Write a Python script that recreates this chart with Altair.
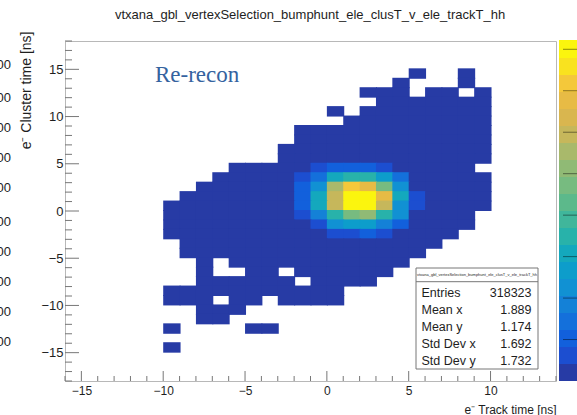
import altair as alt
import pandas as pd

FONT = "Liberation Sans"
TXT = "#1e1e1e"

title_text = "vtxana_gbl_vertexSelection_bumphunt_ele_clusT_v_ele_trackT_hh"
x_title = "e\u207b Track time [ns]"
y_title = "e\u207b Cluster time [ns]"

x_domain = [-16, 14]
y_domain = [-18, 18]
x_label_vals = [-15, -10, -5, 0, 5, 10]
y_label_vals = [-15, -10, -5, 0, 5, 10, 15]
x_major = [-15, -10, -5, 0, 5, 10]
y_major = [-15, -10, -5, 0, 5, 10, 15]
x_minor = [v for v in range(-16, 15) if v % 5 != 0]
y_minor = [v for v in range(-18, 19) if v % 5 != 0]

# occupied 1x1 ns bins (low-count), per row: row lower edge -> spans of x lower edges
row_y = [14, 13, 12, 11, 10, 9, 8, 7, 6, 5, 4, 3, 2, 1, 0, -1, -2, -3, -4, -5,
         -6, -7, -8, -9, -10, -11, -12, -13, -15]
row_spans = [
    [(5, 5), (8, 8)],
    [(4, 4), (8, 8)],
    [(2, 4), (6, 7), (9, 9)],
    [(3, 9)],
    [(0, 0), (2, 9)],
    [(1, 9)],
    [(-2, 9)],
    [(-2, 9)],
    [(-3, 9)],
    [(-3, 9)],
    [(-6, 8)],
    [(-7, 9)],
    [(-8, 9)],
    [(-9, 9)],
    [(-10, 9)],
    [(-10, 8)],
    [(-10, 8)],
    [(-10, 7)],
    [(-9, 6)],
    [(-9, 5)],
    [(-8, -8), (-6, 4)],
    [(-8, -8), (-5, -4), (-2, 3)],
    [(-8, -3), (-1, 2)],
    [(-10, 0)],
    [(-10, -8), (-6, -5), (-3, 0)],
    [(-8, -6)],
    [(-8, -7)],
    [(-10, -10), (-5, -4)],
    [(-10, -10)],
]
low_count = 150

# dense core: row -> first x bin, counts
core_rows = [4, 3, 2, 1, 0, -1, -2, -3]
core_start = [-1, -2, -2, -2, -2, -2, -1, 0]
core_counts = [
    [1200, 2050, 2100, 2000, 1250],
    [1150, 2850, 6150, 7050, 6950, 5300, 2800],
    [2050, 4500, 11100, 14300, 13500, 9400, 4550],
    [2100, 6100, 11900, 16400, 16100, 13400, 6200, 1200],
    [2000, 6150, 11800, 16000, 15900, 11950, 4500, 1150],
    [1250, 3700, 7000, 9450, 10250, 7000, 4450],
    [1200, 4500, 5300, 5250, 3700, 2050],
    [1200, 1250, 2050, 1150],
]

stat_names = ["Entries", "Mean x", "Mean y", "Std Dev x", "Std Dev y"]
stat_values = ["318323", "1.889", "1.174", "1.692", "1.732"]

z_max = 16400
palette = ["#273ba5", "#1c4ed0", "#1260dc", "#1470db", "#1481d7", "#1191d3",
           "#0d9dcb", "#14a8bd", "#28b2aa", "#40b69b", "#5cb98b", "#77bb80",
           "#90ba75", "#a9b96b", "#c6b75b", "#d9b64f", "#e7bb45", "#f4c83a",
           "#f9e21f", "#fbf50e"]
z_ticks = [2000, 4000, 6000, 8000, 10000, 12000, 14000, 16000]
left_cut_labels = ["00"] * 10
left_cut_py = [24, 57, 87, 117, 147, 181, 211, 241, 271, 301]

# ---- build cell table
cells = {}
for y, spans in zip(row_y, row_spans):
    for a, b in spans:
        for x in range(a, b + 1):
            cells[(x, y)] = low_count
for y, xs, cnts in zip(core_rows, core_start, core_counts):
    for i, c in enumerate(cnts):
        cells[(xs + i, y)] = c
df = pd.DataFrame([{"x0": k[0], "x1": k[0] + 1, "y0": k[1], "y1": k[1] + 1, "count": v}
                   for k, v in cells.items()])

xs_ = alt.Scale(domain=x_domain, nice=False, zero=False)
ys_ = alt.Scale(domain=y_domain, nice=False, zero=False)
zs_ = alt.Scale(domain=[0, z_max], nice=False, zero=False)
cscale = alt.Scale(type="quantize", domain=[0, z_max], range=palette, nice=False, zero=False)

x_axis = alt.Axis(values=x_label_vals, ticks=False, domain=False, grid=False,
                  labelFont=FONT, labelFontSize=12, labelColor=TXT, labelPadding=4,
                  title=x_title, titleFont=FONT, titleFontSize=12, titleFontWeight="normal",
                  titleColor=TXT, titleAnchor="end", titleAlign="right",
                  titleBaseline="alphabetic", titleX=491, titleY=32)
y_axis = alt.Axis(values=y_label_vals, ticks=False, domain=False, grid=False,
                  labelFont=FONT, labelFontSize=13, labelColor=TXT, labelPadding=2,
                  title=y_title, titleFont=FONT, titleFontSize=14, titleFontWeight="normal",
                  titleColor=TXT, titleAngle=270, titleAnchor="end", titleAlign="right",
                  titleBaseline="alphabetic", titleX=-35, titleY=-10)

heat = alt.Chart(df).mark_rect(x2Offset=1, y2Offset=-1).encode(
    x=alt.X("x0:Q", scale=xs_, axis=x_axis),
    x2="x1:Q",
    y=alt.Y("y0:Q", scale=ys_, axis=y_axis),
    y2="y1:Q",
    color=alt.Color("count:Q", scale=cscale, legend=None),
)

step = z_max / len(palette)
df_pal = pd.DataFrame({"z0": [i * step for i in range(len(palette))],
                       "z1": [(i + 1) * step for i in range(len(palette))],
                       "col": palette})
pal = alt.Chart(df_pal).mark_rect(y2Offset=-1).encode(
    x=alt.value(494), x2=alt.value(540),
    y=alt.Y("z0:Q", scale=zs_, axis=None), y2="z1:Q",
    fill=alt.Fill("col:N", scale=None),
)
pal_ticks = alt.Chart(pd.DataFrame({"z": z_ticks})).mark_rule(color="#000", opacity=0.45).encode(
    x=alt.value(498), x2=alt.value(540), y=alt.Y("z:Q", scale=zs_, axis=None))

TICK = "#777777"
xmaj = alt.Chart(pd.DataFrame({"v": x_major})).mark_rule(color=TICK).encode(
    x=alt.X("v:Q", scale=xs_), y=alt.value(340), y2=alt.value(330))
xmin = alt.Chart(pd.DataFrame({"v": x_minor})).mark_rule(color=TICK).encode(
    x=alt.X("v:Q", scale=xs_), y=alt.value(340), y2=alt.value(335))
ymaj = alt.Chart(pd.DataFrame({"v": y_major})).mark_rule(color=TICK).encode(
    y=alt.Y("v:Q", scale=ys_, axis=None), x=alt.value(0), x2=alt.value(14))
ymin = alt.Chart(pd.DataFrame({"v": y_minor})).mark_rule(color=TICK).encode(
    y=alt.Y("v:Q", scale=ys_, axis=None), x=alt.value(0), x2=alt.value(7))

one = pd.DataFrame({"a": [0]})
box = alt.Chart(one).mark_rect(fill="white", stroke="#777777", strokeWidth=1).encode(
    x=alt.value(351), x2=alt.value(473), y=alt.value(227), y2=alt.value(328))
box_line = alt.Chart(one).mark_rule(color="#777777").encode(
    x=alt.value(351), x2=alt.value(473), y=alt.value(240.7))
box_head = alt.Chart(one).mark_text(font=FONT, fontSize=4, color=TXT, align="center",
                                    baseline="middle").encode(
    x=alt.value(412), y=alt.value(234), text=alt.value(title_text))

df_stats = pd.DataFrame({"name": stat_names, "val": stat_values,
                         "py": [251.5 + 17.2 * i for i in range(len(stat_names))]})
st_names = alt.Chart(df_stats).mark_text(font=FONT, fontSize=12.5, color=TXT, align="left",
                                         baseline="middle").encode(
    x=alt.value(356.5), y=alt.Y("py:Q", scale=None, axis=None), text="name:N")
st_vals = alt.Chart(df_stats).mark_text(font=FONT, fontSize=12.5, color=TXT, align="right",
                                        baseline="middle").encode(
    x=alt.value(466.5), y=alt.Y("py:Q", scale=None, axis=None), text="val:N")

title = alt.Chart(one).mark_text(font=FONT, fontSize=13, color=TXT, align="center",
                                 baseline="alphabetic").encode(
    x=alt.value(245), y=alt.value(-22), text=alt.value(title_text))
rerecon = alt.Chart(one).mark_text(font="Liberation Serif", fontSize=23, color="#35639f",
                                   align="left", baseline="alphabetic").encode(
    x=alt.value(90), y=alt.value(41), text=alt.value("Re-recon"))
left_cut = alt.Chart(pd.DataFrame({"t": left_cut_labels, "py": left_cut_py})).mark_text(
    font=FONT, fontSize=13, color=TXT, align="right", baseline="middle").encode(
    x=alt.value(-54), y=alt.Y("py:Q", scale=None, axis=None), text="t:N")

chart = alt.layer(
    heat, pal, pal_ticks, xmaj, xmin, ymaj, ymin, box, box_line, box_head,
    st_names, st_vals, title, rerecon, left_cut
).resolve_scale(y="independent").properties(
    width=491, height=340,
    autosize=alt.AutoSizeParams(type="none"),
    padding={"left": 65, "top": 41, "right": 21, "bottom": 34},
    background="white",
).configure_view(stroke="#b8b8b8", strokeWidth=1)

chart.save("out.html", embed_options={"renderer": "svg", "actions": False})
